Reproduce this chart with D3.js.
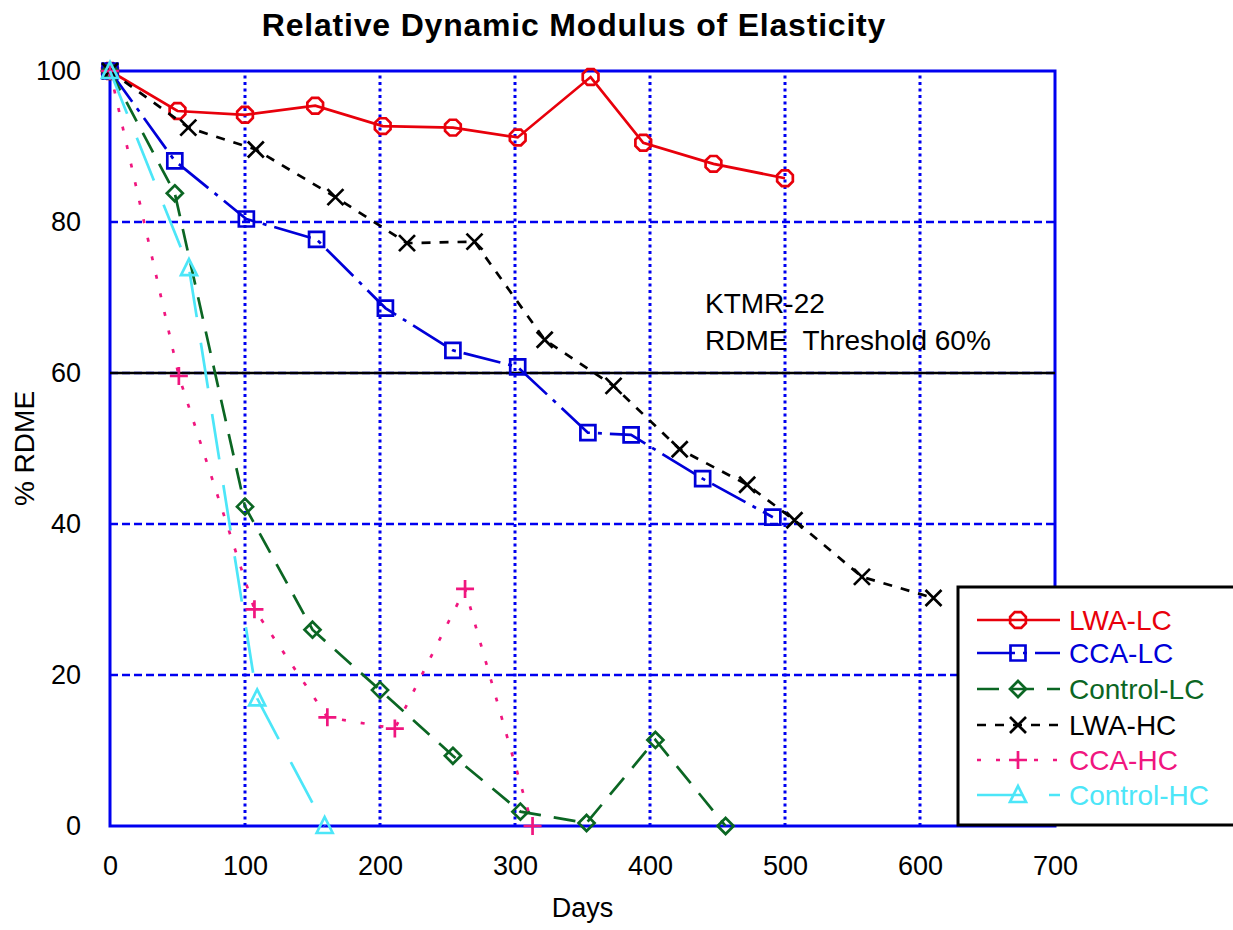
<!DOCTYPE html>
<html><head><meta charset="utf-8">
<script src="https://cdn.jsdelivr.net/npm/d3@7"></script>
<style>body{margin:0;background:#fff}svg{display:block;font-family:"Liberation Sans",Arial,sans-serif}</style>
</head><body><svg id="c" width="1233" height="930"></svg>
<script>
const xTicks = [0,100,200,300,400,500,600,700];
const yTicks = [0,20,40,60,80,100];
const seriesNames = ["LWA-LC","CCA-LC","Control-LC","LWA-HC","CCA-HC","Control-HC"];
const lwaLC_days = [0,50,100,152,202,254,302,356,395,447,500];
const lwaLC_vals = [100,94.7,94.2,95.4,92.7,92.5,91.2,99.2,90.5,87.7,85.8];
const ccaLC_days = [0,48,101,153,204,254,302,354,386,439,491];
const ccaLC_vals = [100,88.1,80.4,77.7,68.6,63.0,60.8,52.1,51.8,46.0,40.9];
const ctrlLC_days = [0,48,100,150,200,254,304,353,404,456];
const ctrlLC_vals = [100,83.8,42.3,26.0,18.0,9.3,1.9,0.4,11.4,0];
const lwaHC_days = [0,58,108,167,220,270,322,373,422,472,507,557,610];
const lwaHC_vals = [100,92.5,89.6,83.3,77.2,77.4,64.4,58.3,49.9,45.2,40.5,33.0,30.2];
const ccaHC_days = [0,51,107,161,211,263,313];
const ccaHC_vals = [100,59.6,28.7,14.4,12.9,31.4,0];
const ctrlHC_days = [0,58.5,109,159];
const ctrlHC_vals = [100,73.9,16.9,0];
const threshold = 60;
const annotation = ["KTMR-22","RDME  Threshold 60%"];

const svg = d3.select("#c");
const x = d3.scaleLinear().domain([0,700]).range([110,1055]);
const y = d3.scaleLinear().domain([0,100]).range([826,71]);

const styles = [
  {color:"#e8000b", dash:null, marker:"oct"},
  {color:"#0000d8", dash:"38,8,4,8", marker:"sq"},
  {color:"#0b6623", dash:"22,13", marker:"dia"},
  {color:"#000000", dash:"9,9", marker:"x"},
  {color:"#f0167f", dash:"4,15", marker:"plus"},
  {color:"#4ce6f8", dash:"46,26", marker:"tri"}
];
const data = [
  [lwaLC_days,lwaLC_vals],[ccaLC_days,ccaLC_vals],[ctrlLC_days,ctrlLC_vals],
  [lwaHC_days,lwaHC_vals],[ccaHC_days,ccaHC_vals],[ctrlHC_days,ctrlHC_vals]
].map(([d,v])=>d.map((dd,i)=>({d:dd,v:v[i]})));

// grid
const grid = svg.append("g");
xTicks.filter(t=>t>0&&t<700).forEach(t=>{
  grid.append("line").attr("x1",x(t)).attr("x2",x(t)).attr("y1",y(0)).attr("y2",y(100))
    .attr("stroke","#0000f0").attr("stroke-width",3).attr("stroke-dasharray","3,3.5");
});
yTicks.filter(t=>t>0&&t<100).forEach(t=>{
  grid.append("line").attr("x1",x(0)).attr("x2",x(700)).attr("y1",y(t)).attr("y2",y(t))
    .attr("stroke","#0000f0").attr("stroke-width",2.6).attr("stroke-dasharray","8,4");
});
// frame
svg.append("rect").attr("x",x(0)).attr("y",y(100)).attr("width",x(700)-x(0)).attr("height",y(0)-y(100))
  .attr("fill","none").attr("stroke","#0000f0").attr("stroke-width",3);
// threshold
svg.append("line").attr("x1",x(0)).attr("x2",x(700)).attr("y1",y(threshold)).attr("y2",y(threshold))
  .attr("stroke","#000").attr("stroke-width",2.6);

// axes
const xAxis = d3.axisBottom(x).tickValues(xTicks).tickSize(0).tickPadding(30);
const gx = svg.append("g").attr("transform",`translate(0,${y(0)})`).call(xAxis);
gx.select(".domain").remove();
gx.selectAll("text").attr("font-size",27).attr("fill","#000").attr("font-family","Liberation Sans, Arial");
const yAxis = d3.axisLeft(y).tickValues(yTicks).tickSize(0).tickPadding(29);
const gy = svg.append("g").attr("transform",`translate(${x(0)},0)`).call(yAxis);
gy.select(".domain").remove();
gy.selectAll("text").attr("font-size",27).attr("fill","#000").attr("font-family","Liberation Sans, Arial");

svg.append("text").attr("x",x(350)).attr("y",917).attr("text-anchor","middle")
  .attr("font-size",27).text("Days");
svg.append("text").attr("transform",`translate(34,${(y(0)+y(100))/2}) rotate(-90)`).attr("text-anchor","middle")
  .attr("font-size",28).text("% RDME");
svg.append("text").attr("x",574).attr("y",36).attr("text-anchor","middle")
  .attr("font-size",32).attr("font-weight","bold").attr("letter-spacing","0.8px")
  .text("Relative Dynamic Modulus of Elasticity");
svg.append("text").attr("x",705).attr("y",313).attr("font-size",28).text(annotation[0]);
svg.append("text").attr("x",705).attr("y",350).attr("font-size",28)
  .attr("xml:space","preserve").style("white-space","pre").text(annotation[1]);

// markers
function markerPath(type){
  switch(type){
    case "oct": {const r=8.5; const pts=d3.range(8).map(i=>{const a=Math.PI/8+i*Math.PI/4;return [r*Math.cos(a),r*Math.sin(a)];}); return "M"+pts.map(p=>p.join(",")).join("L")+"Z";}
    case "sq": return "M-7.5,-7.5H7.5V7.5H-7.5Z";
    case "dia": return "M0,-8L8,0L0,8L-8,0Z";
    case "x": return "M-8,-8L8,8M-8,8L8,-8";
    case "plus": return "M-9,0H9M0,-9V9";
    case "tri": return "M0,-9L8,7H-8Z";
  }
}
const line = d3.line().x(p=>x(p.d)).y(p=>y(p.v));
data.forEach((s,i)=>{
  const st = styles[i];
  const g = svg.append("g");
  g.append("path").attr("d",line(s)).attr("fill","none").attr("stroke",st.color)
    .attr("stroke-width",2.7).attr("stroke-dasharray",st.dash);
  g.selectAll("path.m").data(s).enter().append("path").attr("class","m")
    .attr("transform",p=>`translate(${x(p.d)},${y(p.v)})`).attr("d",markerPath(st.marker))
    .attr("fill","none").attr("stroke",st.color).attr("stroke-width",2.7);
});

// legend
const lg = svg.append("g");
lg.append("rect").attr("x",958).attr("y",587).attr("width",300).attr("height",238)
  .attr("fill","#fff").attr("stroke","#000").attr("stroke-width",3);
const rowY = [620,653,689,725,760,795];
seriesNames.forEach((n,i)=>{
  const st = styles[i];
  lg.append("line").attr("x1",977).attr("x2",1060).attr("y1",rowY[i]).attr("y2",rowY[i])
    .attr("stroke",st.color).attr("stroke-width",2.7).attr("stroke-dasharray",st.dash);
  lg.append("path").attr("transform",`translate(1018,${rowY[i]})`).attr("d",markerPath(st.marker))
    .attr("fill","none").attr("stroke",st.color).attr("stroke-width",2.7);
  lg.append("text").attr("x",1069).attr("y",rowY[i]+10).attr("font-size",28)
    .attr("fill",st.color).text(n);
});
</script></body></html>
